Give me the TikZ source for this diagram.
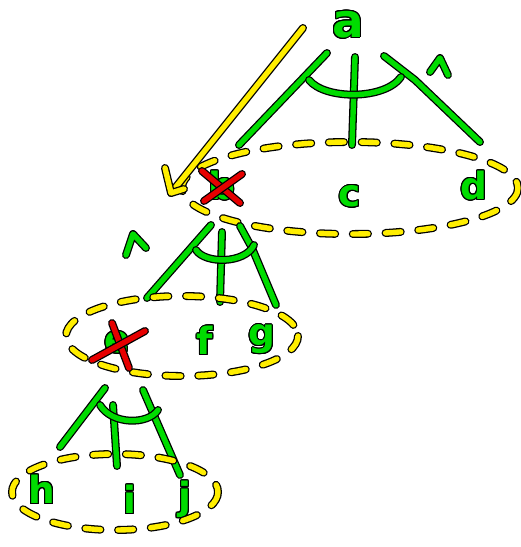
\documentclass[tikz,border=0pt]{standalone}
\usepackage{fontspec}
\setmainfont{DejaVu Sans}
\usepackage{tikz}
\usepackage{contour}
\contourlength{0.9pt}
\usetikzlibrary{positioning}
\definecolor{pengreen}{RGB}{0, 220, 0}
\definecolor{penyellow}{RGB}{255, 238, 0}
\definecolor{penred}{RGB}{230, 0, 0}
\newcommand{\penletter}[1]{\contour{black}{\textcolor{pengreen}{#1}}}

\begin{document}
\begin{tikzpicture}[
    x=0.03cm, y=-0.03cm,
    letter/.style={font=\fontsize{32}{32}\selectfont\bfseries, inner sep=0pt},
    stroke/.style={line width=1.1pt, double=pengreen, double distance=4.6pt, line cap=round, line join=round},
    penarrow/.style={line width=1.1pt, double=penyellow, double distance=4.6pt, line cap=round, line join=round},
    dashring/.style={line width=1.1pt, double=penyellow, double distance=4.6pt, line cap=round, dash pattern=on 13pt off 15pt},
    cross/.style={line width=1.1pt, double=penred, double distance=4.6pt, line cap=round}
]
    \useasboundingbox (0,0) rectangle (521,547);

    % letters
    \node[letter, font=\fontsize{40}{40}\selectfont\bfseries] (a) at (348,25) {\penletter{a}};
    \node[letter] (b) at (222,186) {\penletter{b}};
    \node[letter] (c) at (350,197) {\penletter{c}};
    \node[letter] (d) at (474,186) {\penletter{d}};
    \node[letter] (e) at (117,343) {\penletter{e}};
    \node[letter] (f) at (205,341) {\penletter{f}};
    \node[letter] (g) at (262,340) {\penletter{g}};
    \node[letter] (h) at (42,490) {\penletter{h}};
    \node[letter] (i) at (130,500) {\penletter{i}};
    \node[letter] (j) at (185,500) {\penletter{j}};

    % top tree
    \draw[stroke] (327,53) -- (239,145);
    \draw[stroke] (355,57) -- (352,145);
    \draw[stroke] (384,56) -- (415,80) -- (480,142);
    \draw[stroke] (309,80) .. controls (325,100) and (385,100) .. (401,77);
    \draw[stroke] (430,72) -- (440,58) -- (448,75);
    \draw[dashring] (350,188) ellipse [x radius=168, y radius=46];

    % middle tree
    \draw[stroke] (211,225) -- (147,298);
    \draw[stroke] (222,232) -- (220,302);
    \draw[stroke] (240,226) -- (252,248) -- (276,305);
    \draw[stroke] (196,250) .. controls (205,264) and (245,264) .. (254,245);
    \draw[stroke] (126,255) -- (133,234) -- (146,248);
    \draw[dashring] (182,336) ellipse [x radius=116, y radius=40];

    % bottom tree
    \draw[stroke] (105,388) -- (60,447);
    \draw[stroke] (113,405) -- (117,466);
    \draw[stroke] (143,390) -- (180,475);
    \draw[stroke] (100,405) .. controls (112,425) and (148,425) .. (158,410);
    \draw[dashring] (115,492) ellipse [x radius=103, y radius=38];

    % crossed out
    \draw[cross] ([shift={(-20,-15)}]b.center) -- ([shift={(18,17)}]b.center);
    \draw[cross] ([shift={(-18,15)}]b.center) -- ([shift={(20,-12)}]b.center);
    \draw[cross] ([shift={(-5,-20)}]e.center) -- ([shift={(12,25)}]e.center);
    \draw[cross] ([shift={(-25,17)}]e.center) -- ([shift={(28,-12)}]e.center);

    % arrow
    \coordinate (tip) at (171,193);
    \draw[penarrow] (303,28) -- (tip);
    \draw[penarrow] (165,168) -- (tip) -- (184,189);
\end{tikzpicture}
\end{document}
